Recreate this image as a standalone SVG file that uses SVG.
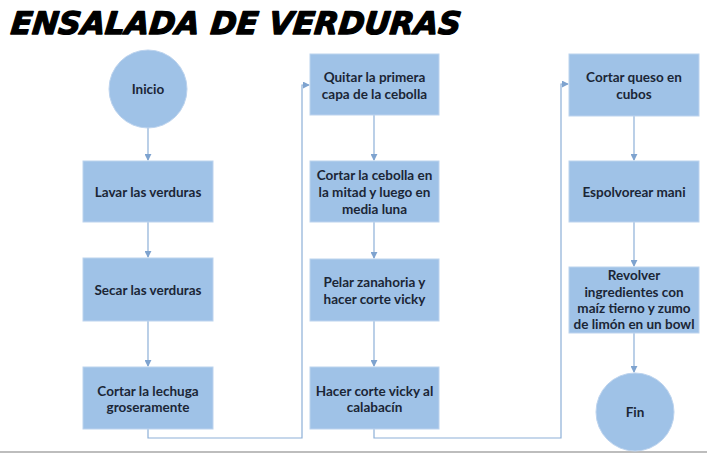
<svg xmlns="http://www.w3.org/2000/svg" width="707" height="453" viewBox="0 0 707 453">
<defs>
<style>
.box{fill:#9fc2e7;stroke:#bcd3ee;stroke-width:1}
.t{font-family:Lato,"Open Sans",sans-serif;font-weight:bold;font-size:13.5px;fill:#1b2636;text-anchor:middle;dominant-baseline:central}
.c{fill:none;stroke:#8db0d8;stroke-width:1.2}
.title{font-family:"DejaVu Sans",sans-serif;font-weight:bold;font-style:italic;font-size:31px;fill:#000;stroke:#000;stroke-width:1.3;stroke-linejoin:round}
</style>
<marker id="ah" viewBox="0 0 8 8" refX="7" refY="4" markerWidth="7" markerHeight="7" markerUnits="userSpaceOnUse" orient="auto">
<path d="M0,0 L8,4 L0,8 z" fill="#7ea3cf"/>
</marker>
</defs>
<rect x="0" y="0" width="707" height="453" fill="#ffffff"/>
<line x1="0" y1="452" x2="707" y2="452" stroke="#bdbdbd" stroke-width="2"/>
<g transform="translate(0,34) skewX(-6)">
<text class="title" x="10" y="0" textLength="450" lengthAdjust="spacingAndGlyphs">ENSALADA DE VERDURAS</text>
</g>

<g id="connectors">
<line class="c" x1="148" y1="128" x2="148" y2="160" marker-end="url(#ah)"/>
<line class="c" x1="148" y1="222" x2="148" y2="257" marker-end="url(#ah)"/>
<line class="c" x1="148" y1="321" x2="148" y2="366" marker-end="url(#ah)"/>
<polyline class="c" points="148,429 148,438 302,438 302,85 309,85" marker-end="url(#ah)"/>
<line class="c" x1="374" y1="115" x2="374" y2="160" marker-end="url(#ah)"/>
<line class="c" x1="374" y1="222" x2="374" y2="258" marker-end="url(#ah)"/>
<line class="c" x1="374" y1="321" x2="374" y2="366" marker-end="url(#ah)"/>
<polyline class="c" points="374,429 374,438 561,438 561,84 568,84" marker-end="url(#ah)"/>
<line class="c" x1="634" y1="116" x2="634" y2="160" marker-end="url(#ah)"/>
<line class="c" x1="634" y1="222" x2="634" y2="266" marker-end="url(#ah)"/>
<line class="c" x1="634" y1="333" x2="634" y2="372" marker-end="url(#ah)"/>
</g>

<g id="inicio"><circle class="box" cx="148" cy="89" r="39"/><text class="t" x="148" y="89">Inicio</text></g>
<g id="lavar"><rect class="box" x="83" y="161" width="130" height="61"/><text class="t" x="148" y="192">Lavar las verduras</text></g>
<g id="secar"><rect class="box" x="83" y="258" width="130" height="63"/><text class="t" x="148" y="290">Secar las verduras</text></g>
<g id="lechuga"><rect class="box" x="83" y="367" width="130" height="62"/><text class="t" x="148" y="391">Cortar la lechuga</text><text class="t" x="148" y="407">groseramente</text></g>

<g id="quitar"><rect class="box" x="310" y="54" width="129" height="61"/><text class="t" x="374.5" y="77">Quitar la primera</text><text class="t" x="374.5" y="94">capa de la cebolla</text></g>
<g id="cebolla"><rect class="box" x="310" y="161" width="129" height="61"/><text class="t" x="374.5" y="175">Cortar la cebolla en</text><text class="t" x="374.5" y="192">la mitad y luego en</text><text class="t" x="374.5" y="209">media luna</text></g>
<g id="zanahoria"><rect class="box" x="310" y="259" width="129" height="62"/><text class="t" x="374.5" y="282">Pelar zanahoria y</text><text class="t" x="374.5" y="299">hacer corte vicky</text></g>
<g id="calabacin"><rect class="box" x="310" y="367" width="129" height="62"/><text class="t" x="374.5" y="391">Hacer corte vicky al</text><text class="t" x="374.5" y="407">calabacín</text></g>

<g id="queso"><rect class="box" x="569" y="54" width="130" height="62"/><text class="t" x="634" y="77">Cortar queso en</text><text class="t" x="634" y="94">cubos</text></g>
<g id="mani"><rect class="box" x="569" y="161" width="130" height="61"/><text class="t" x="634" y="192">Espolvorear mani</text></g>
<g id="revolver"><rect class="box" x="569" y="267" width="130" height="66"/><text class="t" x="634" y="275">Revolver</text><text class="t" x="634" y="292">ingredientes con</text><text class="t" x="634" y="308">maíz tierno y zumo</text><text class="t" x="634" y="324">de limón en un bowl</text></g>
<g id="fin"><circle class="box" cx="635" cy="412" r="39"/><text class="t" x="635" y="412">Fin</text></g>
</svg>
